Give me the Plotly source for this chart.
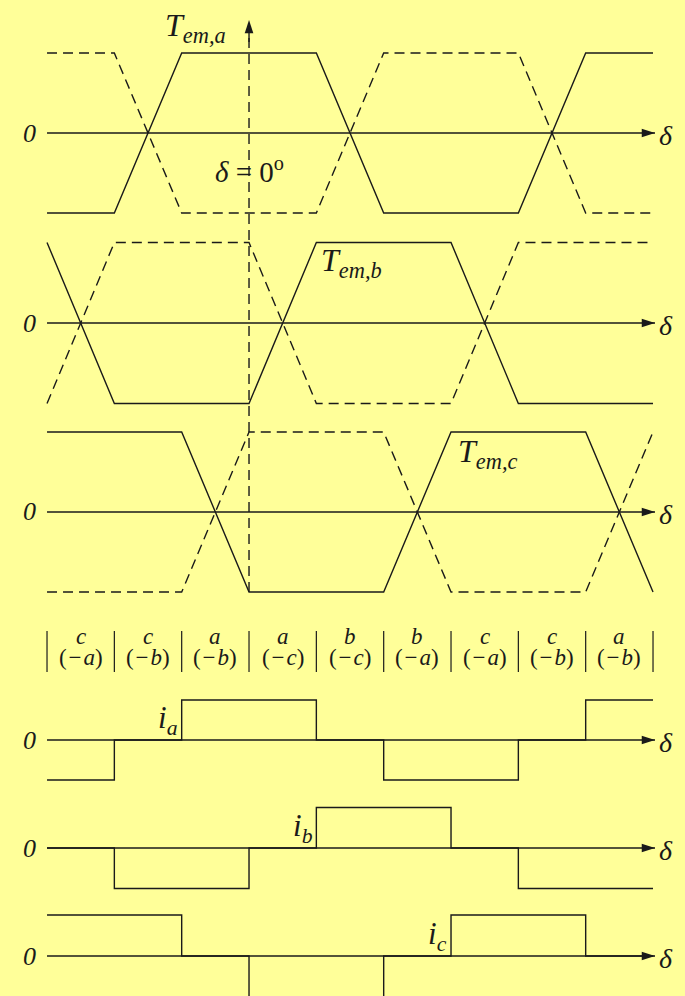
import plotly.graph_objects as go

W, H = 685, 996

# Electrical angle breakpoints (degrees); delta = 0 is the reference instant
delta = [-180, -120, -60, 0, 60, 120, 180, 240, 300, 360]

# Trapezoidal torque of each phase (normalised) and the opposite-polarity waveform
t_em_a = [-1, -1, 1, 1, 1, -1, -1, -1, 1, 1]
t_em_a_neg = [1, 1, -1, -1, -1, 1, 1, 1, -1, -1]
t_em_b = [1, -1, -1, -1, 1, 1, 1, -1, -1, -1]
t_em_b_neg = [-1, 1, 1, 1, -1, -1, -1, 1, 1, 1]
t_em_c = [1, 1, 1, -1, -1, -1, 1, 1, 1, -1]
t_em_c_neg = [-1, -1, -1, 1, 1, 1, -1, -1, -1, 1]

# 120-degree block currents, one value per 60-degree interval (last value closes the step)
i_a = [-1, 0, 1, 1, 0, -1, -1, 0, 1, 1]
i_b = [0, -1, -1, 0, 1, 1, 0, -1, -1, -1]
i_c = [1, 1, 0, -1, -1, 0, 1, 1, 0, 0]

# Conducting phase pair in each 60-degree interval
seg_pos = ["c", "c", "a", "a", "b", "b", "c", "c", "a"]
seg_neg = ["a", "b", "b", "c", "c", "a", "a", "b", "b"]

INK = "#1a1a1a"
BG = "#ffff99"
FONT = "Liberation Serif"
LW = 1.4
DASH = "10px,6px"
X_RANGE = [-221.9, 388.5]
ARROW_TIP = 361.8


def fx(px):
    return px / W


def fy(px):
    return 1 - px / H


# (axis id, zero line px, amplitude px, top px, bottom px)
panels = [
    ("y", 133, 80, 0, 228),
    ("y2", 323, 80.5, 228, 418),
    ("y3", 512, 80, 418, 612),
    ("y4", 740, 40, 690, 794),
    ("y5", 848, 40.5, 794, 902),
    ("y6", 956, 41, 902, 996),
]

fig = go.Figure()
layout_axes = {}
for ax, zero, amp, top, bot in panels:
    key = "yaxis" if ax == "y" else "yaxis" + ax[1:]
    layout_axes[key] = dict(
        domain=[fy(bot), fy(top)],
        range=[-(bot - zero) / amp, (zero - top) / amp],
        visible=False, fixedrange=True, anchor="x",
    )


def add_line(x, y, ax, dash=None, shape="linear"):
    fig.add_trace(go.Scatter(
        x=x, y=y, yaxis=ax, mode="lines", line_shape=shape,
        line=dict(color=INK, width=LW, dash=dash), hoverinfo="skip",
        showlegend=False,
    ))


def add_axis(ax):
    add_line([delta[0], ARROW_TIP], [0, 0], ax)
    fig.add_trace(go.Scatter(
        x=[ARROW_TIP], y=[0], yaxis=ax, mode="markers", cliponaxis=False,
        marker=dict(symbol="arrow", angle=90, size=14, color=INK,
                    line=dict(width=0)),
        hoverinfo="skip", showlegend=False,
    ))


# torque panels
for ax, solid, dashed in [("y", t_em_a, t_em_a_neg),
                          ("y2", t_em_b, t_em_b_neg),
                          ("y3", t_em_c, t_em_c_neg)]:
    add_axis(ax)
    add_line(delta, dashed, ax, dash=DASH)
    add_line(delta, solid, ax)

# current panels
for ax, cur in [("y4", i_a), ("y5", i_b), ("y6", i_c)]:
    add_axis(ax)
    add_line(delta, cur, ax, shape="hv")

# vertical reference line at delta = 0 with arrowhead
fig.add_shape(type="line", xref="x", yref="paper", x0=0, x1=0,
              y0=fy(592), y1=fy(30), line=dict(color=INK, width=LW, dash=DASH))
fig.add_trace(go.Scatter(
    x=[0], y=[(133 - 20) / 80], yaxis="y", mode="markers", cliponaxis=False,
    marker=dict(symbol="arrow", angle=0, size=14, color=INK, line=dict(width=0)),
    hoverinfo="skip", showlegend=False,
))
fig.add_shape(type="line", xref="x", yref="paper", x0=0, x1=0,
              y0=fy(42), y1=fy(26), line=dict(color=INK, width=LW))

# interval separators and conducting-pair labels
for d in delta:
    fig.add_shape(type="line", xref="x", yref="paper", x0=d, x1=d,
                  y0=fy(672), y1=fy(631), line=dict(color=INK, width=1.2))

annotations = []
for k in range(len(seg_pos)):
    mid = (delta[k] + delta[k + 1]) / 2
    annotations.append(dict(
        x=mid, xref="x", y=fy(636), yref="paper", xanchor="center", yanchor="middle",
        text="<i>%s</i>" % seg_pos[k], showarrow=False,
        font=dict(family=FONT, size=23, color=INK)))
    annotations.append(dict(
        x=mid, xref="x", y=fy(657), yref="paper", xanchor="center", yanchor="middle",
        text="(\u200a\u2212\u200a<i>%s</i>)" % seg_neg[k], showarrow=False,
        font=dict(family=FONT, size=23, color=INK)))

# zero labels and delta labels beside each axis
for ax, zero, amp, top, bot in panels:
    annotations.append(dict(
        x=fx(38), xref="paper", y=fy(zero), yref="paper", xanchor="right",
        yanchor="middle", text="<i>0</i>", showarrow=False,
        font=dict(family=FONT, size=26, color=INK)))
    annotations.append(dict(
        x=fx(657), xref="paper", y=fy(zero + 2), yref="paper", xanchor="left",
        yanchor="middle", text="<i>\u03b4</i>", showarrow=False,
        font=dict(family=FONT, size=28, color=INK)))

# waveform names
names = [
    ("<i>T<sub>em,a</sub></i>", 163, 27),
    ("<i>T<sub>em,b</sub></i>", 319, 263),
    ("<i>T<sub>em,c</sub></i>", 456, 453),
]
for txt, xl, yc in names:
    annotations.append(dict(
        x=fx(xl), xref="paper", y=fy(yc), yref="paper", xanchor="left",
        yanchor="middle", text=txt, showarrow=False,
        font=dict(family=FONT, size=32, color=INK)))

currents = [
    ("<i>i<sub>a</sub></i>", 180, 720),
    ("<i>i<sub>b</sub></i>", 315, 828),
    ("<i>i<sub>c</sub></i>", 449, 936),
]
for txt, xr, yc in currents:
    annotations.append(dict(
        x=fx(xr), xref="paper", y=fy(yc), yref="paper", xanchor="right",
        yanchor="middle", text=txt, showarrow=False,
        font=dict(family=FONT, size=31, color=INK)))

annotations.append(dict(
    x=fx(213), xref="paper", y=fy(170), yref="paper", xanchor="left",
    yanchor="middle", text="<i>\u03b4</i> = 0<sup>o</sup>", showarrow=False,
    font=dict(family=FONT, size=29, color=INK)))

fig.update_layout(
    width=W, height=H,
    margin=dict(l=0, r=0, t=0, b=0),
    paper_bgcolor=BG, plot_bgcolor=BG,
    xaxis=dict(range=X_RANGE, visible=False, fixedrange=True, domain=[0, 1]),
    annotations=annotations,
    showlegend=False,
    **layout_axes,
)

fig.write_html("out.html")
